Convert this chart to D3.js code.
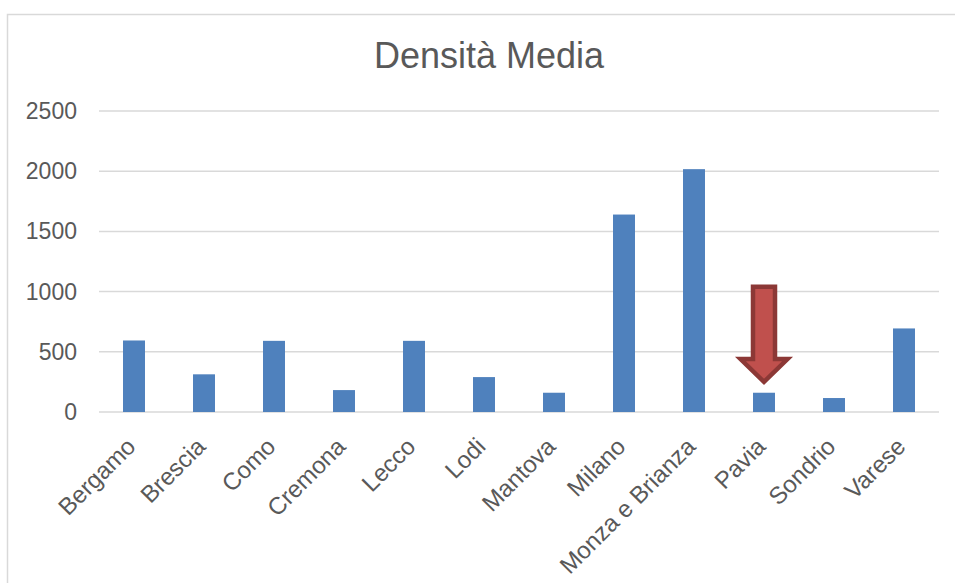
<!DOCTYPE html>
<html>
<head>
<meta charset="utf-8">
<script src="https://cdn.jsdelivr.net/npm/d3@7"></script>
<style>
  body { margin: 0; background: #fff; }
  text { font-family: "Liberation Sans", Arial, sans-serif; fill: #595959; }
</style>
</head>
<body>
<svg id="chart" width="955" height="583"></svg>
<script>
// dati
const province = ["Bergamo", "Brescia", "Como", "Cremona", "Lecco", "Lodi", "Mantova",
                  "Milano", "Monza e Brianza", "Pavia", "Sondrio", "Varese"]
const densita = [594, 313, 591, 182, 591, 290, 160, 1640, 2017, 160, 116, 694]
const yTicks = [0, 500, 1000, 1500, 2000, 2500]
const titolo = "Densità Media"
// freccia sopra Pavia: [cima, base della punta, punta]
const freccia = { provincia: "Pavia", values: [1040, 440, 250] }

const svg = d3.select("#chart")
const ivp = { x: 99, y: 111, w: 939, h: 412 }

// cornice
svg.append("rect")
   .attr("x", 7.5).attr("y", 14.5)
   .attr("width", 1000).attr("height", 1000)
   .attr("fill", "none")
   .attr("stroke", "#D9D9D9")
   .attr("stroke-width", 1.5)

const x = d3.scaleBand()
   .domain(province)
   .range([ivp.x, ivp.w])
   .paddingInner(0.686)
   .paddingOuter(0.343)

const y = d3.scaleLinear()
   .domain([0, 2500])
   .range([ivp.h, ivp.y])

// titolo
svg.append("text")
   .attr("x", 489).attr("y", 68)
   .attr("text-anchor", "middle")
   .attr("font-size", 36)
   .text(titolo)

// griglia + etichette y
const yAxis = svg.append("g")
yAxis.selectAll("line")
   .data(yTicks)
   .enter()
   .append("line")
   .attr("x1", ivp.x).attr("x2", ivp.w)
   .attr("y1", d => y(d)).attr("y2", d => y(d))
   .attr("stroke", "#D9D9D9")
   .attr("stroke-width", 1.5)

yAxis.selectAll("text")
   .data(yTicks)
   .enter()
   .append("text")
   .attr("x", 77)
   .attr("y", d => y(d))
   .attr("dy", "0.35em")
   .attr("text-anchor", "end")
   .attr("font-size", 23)
   .text(d => d)

// barre
svg.selectAll("rect.bar")
   .data(province)
   .enter()
   .append("rect")
   .attr("class", "bar")
   .attr("x", d => x(d))
   .attr("width", x.bandwidth())
   .attr("y", (d, i) => y(densita[i]))
   .attr("height", (d, i) => y(0) - y(densita[i]))
   .attr("fill", "#4F81BD")

// etichette x ruotate
svg.selectAll("text.xlab")
   .data(province)
   .enter()
   .append("text")
   .attr("class", "xlab")
   .attr("text-anchor", "end")
   .attr("font-size", 24)
   .attr("transform", d => `translate(${x(d) + x.bandwidth() / 2 + 3},${448}) rotate(-45)`)
   .text(d => d)

// freccia
const cx = x(freccia.provincia) + x.bandwidth() / 2
const [vTop, vBase, vTip] = freccia.values
const sw = 11, hw = 23.5
const pts = [
  [cx - sw, y(vTop)], [cx + sw, y(vTop)], [cx + sw, y(vBase)], [cx + hw, y(vBase)],
  [cx, y(vTip)], [cx - hw, y(vBase)], [cx - sw, y(vBase)]
]
svg.append("path")
   .attr("d", "M" + pts.map(p => p.join(",")).join("L") + "Z")
   .attr("fill", "#C0504D")
   .attr("stroke", "#8C3836")
   .attr("stroke-width", 4.5)
   .attr("stroke-linejoin", "miter")
</script>
</body>
</html>
